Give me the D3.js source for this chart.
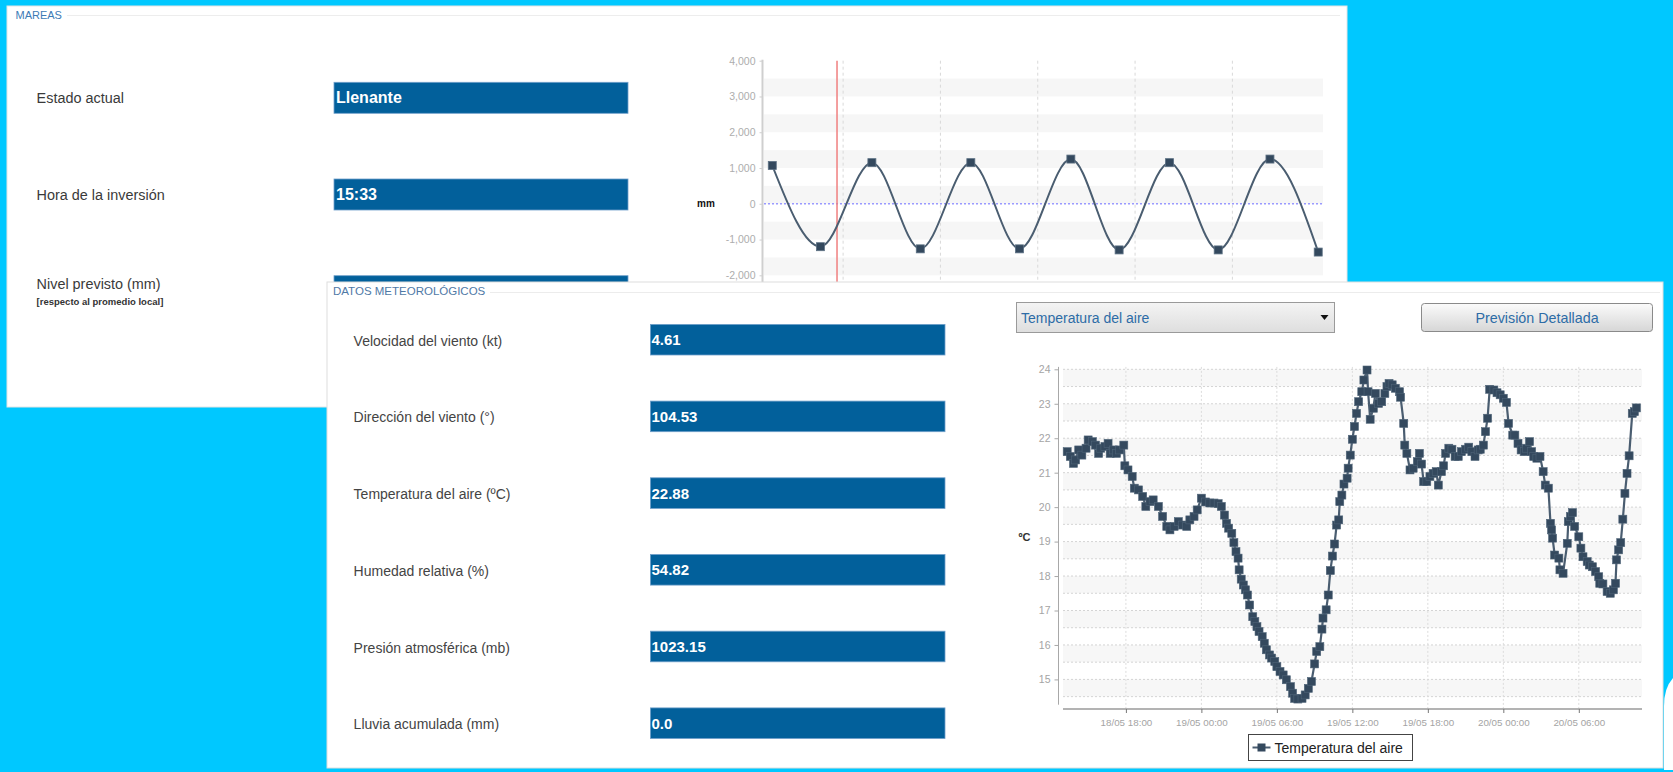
<!DOCTYPE html>
<html><head><meta charset="utf-8">
<script src="https://cdn.jsdelivr.net/npm/d3@7"></script>
<style>html,body{margin:0;padding:0;background:#00c8ff;overflow:hidden}
text{font-family:"Liberation Sans",Arial,sans-serif}</style>
</head><body>
<svg id="chart" width="1673" height="772"></svg>
<script>
// ---------------- DATA ----------------
const tideFieldLabels = ["Estado actual", "Hora de la inversión", "Nivel previsto (mm)"];
const tideFieldNotes  = ["", "", "[respecto al promedio local]"];
const tideFieldValues = ["Llenante", "15:33", ""];

const meteoLabels = ["Velocidad del viento (kt)", "Dirección del viento (°)", "Temperatura del aire (ºC)",
                     "Humedad relativa (%)", "Presión atmosférica (mb)", "Lluvia acumulada (mm)"];
const meteoValues = ["4.61", "104.53", "22.88", "54.82", "1023.15", "0.0"];

const tideTimes  = ["20/05 03:16","20/05 09:12","20/05 15:33","20/05 21:31","21/05 03:45","21/05 09:45",
                    "21/05 16:05","21/05 22:02","22/05 04:15","22/05 10:15","22/05 16:38","22/05 22:35"];
const tideLevels = [1070, -1200, 1150, -1260, 1150, -1260, 1250, -1290, 1150, -1290, 1250, -1350];
const tideYTicks = [-2000, -1000, 0, 1000, 2000, 3000, 4000];
const tideDomain = ["20/05 02:00", "22/05 23:00"];
const nowTime = "20/05 11:15";

const tempTimes = [
"18/05 13:20","18/05 13:35","18/05 13:50","18/05 14:00","18/05 14:15","18/05 14:30","18/05 14:50","18/05 15:00",
"18/05 15:20","18/05 15:35","18/05 15:50","18/05 16:00","18/05 16:20","18/05 16:35","18/05 16:45","18/05 17:00",
"18/05 17:15","18/05 17:30","18/05 17:50","18/05 17:55","18/05 18:10","18/05 18:30","18/05 18:40","18/05 19:00",
"18/05 19:20","18/05 19:35","18/05 19:55","18/05 20:10","18/05 20:35","18/05 20:55","18/05 21:15","18/05 21:30",
"18/05 21:50","18/05 22:10","18/05 22:30","18/05 22:50","18/05 23:05","18/05 23:25","18/05 23:40",
"19/05 00:00","19/05 00:20","19/05 00:40","19/05 01:00","19/05 01:20","19/05 01:35","19/05 01:50","19/05 02:00",
"19/05 02:10","19/05 02:25","19/05 02:35","19/05 02:45","19/05 02:55","19/05 03:00","19/05 03:10","19/05 03:20",
"19/05 03:30","19/05 03:40","19/05 03:50","19/05 04:05","19/05 04:15","19/05 04:25","19/05 04:35","19/05 04:50",
"19/05 05:00","19/05 05:10","19/05 05:25","19/05 05:35","19/05 05:50","19/05 06:00","19/05 06:15","19/05 06:30",
"19/05 06:45","19/05 07:05","19/05 07:15","19/05 07:25","19/05 07:40","19/05 08:00","19/05 08:15","19/05 08:30",
"19/05 08:45","19/05 09:00","19/05 09:10","19/05 09:25","19/05 09:35","19/05 09:40","19/05 09:55","19/05 10:05",
"19/05 10:15","19/05 10:25","19/05 10:35","19/05 10:45","19/05 10:55","19/05 11:00","19/05 11:10","19/05 11:20",
"19/05 11:35","19/05 11:40","19/05 11:50","19/05 12:00","19/05 12:10","19/05 12:20","19/05 12:30","19/05 12:45",
"19/05 12:55","19/05 13:10","19/05 13:15","19/05 13:25","19/05 13:40","19/05 13:50","19/05 14:05","19/05 14:20",
"19/05 14:35","19/05 14:45","19/05 14:55","19/05 15:10","19/05 15:25","19/05 15:45","19/05 15:50","19/05 16:05",
"19/05 16:10","19/05 16:20","19/05 16:35","19/05 16:50","19/05 17:10","19/05 17:20","19/05 17:30","19/05 17:40",
"19/05 17:55","19/05 18:10","19/05 18:25","19/05 18:40","19/05 18:50","19/05 19:05","19/05 19:15","19/05 19:25",
"19/05 19:40","19/05 19:55","19/05 20:10","19/05 20:25","19/05 20:40","19/05 21:00","19/05 21:15","19/05 21:30",
"19/05 21:45","19/05 22:00","19/05 22:10","19/05 22:25","19/05 22:35","19/05 22:45","19/05 22:55","19/05 23:15",
"19/05 23:30","19/05 23:45",
"20/05 00:00","20/05 00:15","20/05 00:25","20/05 00:45","20/05 00:55","20/05 01:10","20/05 01:25","20/05 01:40",
"20/05 01:50","20/05 02:05","20/05 02:15","20/05 02:25","20/05 02:40","20/05 02:55","20/05 03:10","20/05 03:20",
"20/05 03:35","20/05 03:45","20/05 03:50","20/05 03:55","20/05 04:05","20/05 04:25","20/05 04:30","20/05 04:45",
"20/05 05:05","20/05 05:10","20/05 05:20","20/05 05:30","20/05 05:40","20/05 06:00","20/05 06:10","20/05 06:20",
"20/05 06:40","20/05 06:50","20/05 07:05","20/05 07:20","20/05 07:35","20/05 07:40","20/05 07:55","20/05 08:15",
"20/05 08:30","20/05 08:45","20/05 08:55","20/05 09:00","20/05 09:10","20/05 09:20","20/05 09:30","20/05 09:40",
"20/05 09:50","20/05 10:00","20/05 10:15","20/05 10:25","20/05 10:35"];
const tempValues = [
21.61,21.47,21.27,21.37,21.66,21.51,21.71,21.95,
21.90,21.80,21.56,21.71,21.76,21.85,21.56,21.66,
21.56,21.66,21.80,21.20,21.08,20.89,20.55,20.50,
20.31,20.02,20.16,20.21,20.02,19.73,19.44,19.34,
19.44,19.58,19.48,19.44,19.63,19.73,19.92,
20.26,20.15,20.12,20.12,20.10,20.02,19.77,19.53,
19.39,19.24,18.97,18.71,18.52,18.18,17.91,17.74,
17.60,17.45,17.16,16.82,16.68,16.53,16.39,16.24,
16.05,15.86,15.71,15.62,15.52,15.37,15.23,15.13,
14.99,14.79,14.60,14.45,14.43,14.45,14.55,14.74,
14.94,15.45,15.81,15.95,16.46,16.78,17.02,17.45,
18.16,18.58,18.93,19.48,19.63,20.16,20.35,20.67,
20.84,21.13,21.51,21.97,22.34,22.72,23.06,23.35,
23.69,23.98,23.35,22.55,22.87,23.30,23.01,23.06,
23.30,23.50,23.59,23.55,23.45,23.35,23.19,22.43,
21.80,21.56,21.08,21.13,21.32,21.56,21.25,20.74,
20.74,20.89,20.98,21.03,20.64,21.03,21.20,21.56,
21.71,21.68,21.47,21.47,21.61,21.68,21.74,21.61,
21.47,21.66,21.68,21.80,22.19,22.58,23.42,23.40,
23.32,23.26,
23.16,23.04,22.43,22.09,22.09,21.85,21.66,21.61,
21.71,21.90,21.61,21.47,21.42,21.47,21.03,20.64,
20.55,19.53,19.34,19.10,18.61,18.52,18.18,18.08,
18.95,19.58,19.73,19.84,19.44,19.14,18.81,18.56,
18.42,18.32,18.27,18.13,17.98,17.79,17.77,17.55,
17.50,17.60,17.79,18.47,18.76,18.97,19.65,20.40,
20.98,21.49,22.72,22.77,22.88];
const tempYTicks = [15, 16, 17, 18, 19, 20, 21, 22, 23, 24];
const tempDomain = ["18/05 13:00", "20/05 11:00"];
const tempSeriesName = "Temperatura del aire";
const selectorText = "Temperatura del aire";
const buttonText = "Previsión Detallada";

// ---------------- DRAW ----------------
const parse = d3.timeParse("%d/%m %H:%M");
const fmt = d3.timeFormat("%d/%m %H:%M");
const svg = d3.select("#chart");
const W = 1673, H = 772;
const BAR = "#02609b", BARLINE = "#6f9fca", LINE = "#4a5d70", MARK = "#34495e";

const defs = svg.append("defs");
const g1 = defs.append("linearGradient").attr("id","btn").attr("x1",0).attr("x2",0).attr("y1",0).attr("y2",1);
g1.append("stop").attr("offset","0%").attr("stop-color","#fbfbfb");
g1.append("stop").attr("offset","100%").attr("stop-color","#d6d6d6");
const g2 = defs.append("linearGradient").attr("id","sel").attr("x1",0).attr("x2",0).attr("y1",0).attr("y2",1);
g2.append("stop").attr("offset","0%").attr("stop-color","#f4f4f4");
g2.append("stop").attr("offset","100%").attr("stop-color","#dedede");

svg.append("rect").attr("width",W).attr("height",H).attr("fill","#00c8ff");

// ===== Panel 1 : MAREAS =====
const p1 = svg.append("g");
p1.append("rect").attr("x",7).attr("y",6).attr("width",1340).attr("height",401)
  .attr("fill","#fff").attr("stroke","#e4e4e4");
p1.append("line").attr("x1",67).attr("x2",1340).attr("y1",15.5).attr("y2",15.5).attr("stroke","#ededed");
p1.append("text").attr("x",15.5).attr("y",14.5).attr("dominant-baseline","central")
  .attr("font-size",11).attr("fill","#3d7bb6").text("MAREAS");

const row1 = d3.scaleLinear().domain([0,1]).range([97.8, 194.5]);
tideFieldLabels.forEach((lab,i)=>{
  const cy = row1(i);
  const hasNote = tideFieldNotes[i] !== "";
  p1.append("text").attr("transform",`translate(36.6,${hasNote?cy-8:cy}) scale(0.93,1)`)
    .attr("dominant-baseline","central").attr("font-size",15.5).attr("fill","#3a3a3a").text(lab);
  if (hasNote) p1.append("text").attr("x",36.6).attr("y",cy+10).attr("dominant-baseline","central")
    .attr("font-size",9.5).attr("font-weight","bold").attr("fill","#333").text(tideFieldNotes[i]);
  p1.append("rect").attr("x",334).attr("y",cy-15.5).attr("width",294).attr("height",31)
    .attr("fill",BAR).attr("stroke",BARLINE).attr("stroke-width",0.8);
  p1.append("text").attr("x",336).attr("y",cy).attr("dominant-baseline","central")
    .attr("font-size",16).attr("font-weight","bold").attr("fill","#fff").text(tideFieldValues[i]);
});

// tide chart
const xT = d3.scaleTime().domain(tideDomain.map(parse)).range([762, 1321.6]);
const yT = d3.scaleLinear().domain([-2500, 4000]).range([293.2, 60.7]);
const tg = p1.append("g");
const tX0 = 764, tX1 = 1323;
for (let k=-2; k<=3; k++) {
  tg.append("rect").attr("x",tX0).attr("width",tX1-tX0)
    .attr("y",yT(k*1000+500)).attr("height",yT(k*1000)-yT(k*1000+500)).attr("fill","#f6f6f6");
}
tg.selectAll(".vg").data(xT.ticks(d3.timeHour.every(12))).join("line")
  .attr("x1",d=>xT(d)).attr("x2",d=>xT(d)).attr("y1",yT(4000)).attr("y2",yT(-2500))
  .attr("stroke","#d9d9d9").attr("stroke-dasharray","3,3");
tg.append("line").attr("x1",tX0).attr("x2",tX1).attr("y1",yT(0)).attr("y2",yT(0))
  .attr("stroke","#9a9aff").attr("stroke-width",1.5).attr("stroke-dasharray","2,2");
const commaFmt = d3.format(",");
const yAxT = tg.append("g").attr("transform","translate(762.5,0)")
  .call(d3.axisLeft(yT).tickValues(tideYTicks).tickSize(3).tickPadding(4)
        .tickFormat(d => commaFmt(d).replace("\u2212","-")));
yAxT.select(".domain").attr("stroke","#cfcfcf").attr("stroke-width",2).attr("d",`M0,${yT(4000)-1}V${yT(-2500)}`);
yAxT.selectAll(".tick line").attr("stroke","#cfcfcf");
yAxT.selectAll("text").attr("fill","#adadad").attr("font-size",10.5).attr("font-family","Liberation Sans, Arial");
tg.append("text").attr("x",706).attr("y",yT(0)).attr("text-anchor","middle").attr("dominant-baseline","central")
  .attr("font-size",10).attr("font-weight","bold").attr("fill","#111").text("mm");
tg.append("line").attr("x1",xT(parse(nowTime))).attr("x2",xT(parse(nowTime)))
  .attr("y1",yT(4000)).attr("y2",yT(-2500)).attr("stroke","#f07f7f").attr("stroke-width",1.5);
const tideData = tideTimes.map((t,i)=>({t:parse(t), v:tideLevels[i]}));
tg.append("path").datum(tideData).attr("fill","none").attr("stroke",LINE).attr("stroke-width",2)
  .attr("d", d3.line().x(d=>xT(d.t)).y(d=>yT(d.v)).curve(d3.curveMonotoneX));
tg.selectAll(".tm").data(tideData).join("rect")
  .attr("x",d=>xT(d.t)-4).attr("y",d=>yT(d.v)-4).attr("width",8).attr("height",8)
  .attr("fill",MARK).attr("stroke","#5d7184").attr("stroke-width",0.8);

// ===== Panel 2 : DATOS METEOROLÓGICOS =====
const p2 = svg.append("g");
p2.append("path").attr("d","M1673,678 Q1664,688 1664,706 L1664,770 L1673,770 Z").attr("fill","#fff");
p2.append("rect").attr("x",327).attr("y",282).attr("width",1336).attr("height",486)
  .attr("fill","#fff").attr("stroke","#dedede");
p2.append("line").attr("x1",490).attr("x2",1660).attr("y1",292.5).attr("y2",292.5).attr("stroke","#ececec");
p2.append("text").attr("x",333).attr("y",291).attr("dominant-baseline","central")
  .attr("font-size",11.5).attr("fill","#4f79a6").text("DATOS METEOROLÓGICOS");

const row2 = d3.scaleLinear().domain([0,1]).range([339.7, 416.4]);
meteoLabels.forEach((lab,i)=>{
  const cy = row2(i);
  p2.append("text").attr("x",353.6).attr("y",cy+1).attr("dominant-baseline","central")
    .attr("font-size",14).attr("fill","#444").text(lab);
  p2.append("rect").attr("x",650.4).attr("y",cy-15.3).attr("width",294.6).attr("height",30.6)
    .attr("fill",BAR).attr("stroke",BARLINE).attr("stroke-width",0.8);
  p2.append("text").attr("x",651.5).attr("y",cy).attr("dominant-baseline","central")
    .attr("font-size",15).attr("font-weight","bold").attr("fill","#fff").text(meteoValues[i]);
});

// selector + button
p2.append("rect").attr("x",1016.5).attr("y",302.5).attr("width",318).attr("height",30)
  .attr("fill","url(#sel)").attr("stroke","#9a9a9a");
p2.append("text").attr("x",1021).attr("y",317.5).attr("dominant-baseline","central")
  .attr("font-size",14).attr("fill","#2d6ca6").text(selectorText);
p2.append("path").attr("d","M1320.5,315 L1328.5,315 L1324.5,320 Z").attr("fill","#111");
p2.append("rect").attr("x",1421.5).attr("y",303.5).attr("width",231).attr("height",28).attr("rx",3)
  .attr("fill","url(#btn)").attr("stroke","#8a8a8a");
p2.append("text").attr("x",1537).attr("y",317.5).attr("text-anchor","middle").attr("dominant-baseline","central")
  .attr("font-size",14.3).attr("fill","#2d6ca6").text(buttonText);

// temperature chart
const xC = d3.scaleTime().domain(tempDomain.map(parse)).range([1063, 1641.7]);
const yC = d3.scaleLinear().domain([14.15, 24.07]).range([708.7, 366.9]);
const cg = p2.append("g");
const cX0 = 1063, cX1 = 1642;
for (let k=14; k<=23; k++) {
  cg.append("rect").attr("x",cX0).attr("width",cX1-cX0)
    .attr("y",yC(Math.min(k+1,24))).attr("height",yC(k+0.5)-yC(Math.min(k+1,24))).attr("fill","#f7f7f7");
}
const halfTicks = d3.range(14.5, 24.01, 0.5);
cg.selectAll(".hg").data(halfTicks).join("line")
  .attr("x1",cX0).attr("x2",cX1).attr("y1",d=>yC(d)).attr("y2",d=>yC(d))
  .attr("stroke","#d4d4d4").attr("stroke-dasharray","2,2");
const tTicks = xC.ticks(d3.timeHour.every(6));
cg.selectAll(".cvg").data(tTicks).join("line")
  .attr("x1",d=>xC(d)).attr("x2",d=>xC(d)).attr("y1",yC(24.07)).attr("y2",yC(14.15))
  .attr("stroke","#dcdcdc").attr("stroke-dasharray","2,2");
const yAxC = cg.append("g").attr("transform","translate(1058.5,0)")
  .call(d3.axisLeft(yC).tickValues(tempYTicks).tickSize(4).tickPadding(4));
yAxC.select(".domain").attr("stroke","#a8a8a8").attr("d",`M0,${yC(24.07)}V${yC(14.15)-4}`);
yAxC.selectAll(".tick line").attr("stroke","#a8a8a8");
yAxC.selectAll("text").attr("fill","#a4a4a4").attr("font-size",10.5).attr("font-family","DejaVu Sans Mono, monospace");
const xAxC = cg.append("g").attr("transform","translate(0,709)")
  .call(d3.axisBottom(xC).tickValues(tTicks).tickSize(4).tickPadding(6).tickFormat(fmt));
xAxC.select(".domain").attr("stroke","#9a9a9a").attr("stroke-width",1.5).attr("d",`M${cX0},0H${cX1}`);
xAxC.selectAll(".tick line").attr("stroke","#777");
xAxC.selectAll("text").attr("fill","#a4a4a4").attr("font-size",9.8).attr("font-family","DejaVu Sans Mono, monospace");
cg.append("text").attr("x",1024.5).attr("y",537).attr("text-anchor","middle").attr("dominant-baseline","central")
  .attr("font-size",11).attr("font-weight","bold").attr("fill","#333").text("ºC");

const tempData = tempTimes.map((t,i)=>({t:parse(t), v:tempValues[i]}));
cg.append("path").datum(tempData).attr("fill","none").attr("stroke",LINE).attr("stroke-width",2.2)
  .attr("d", d3.line().x(d=>xC(d.t)).y(d=>yC(d.v)));
cg.selectAll(".cm").data(tempData).join("rect")
  .attr("x",d=>xC(d.t)-4).attr("y",d=>yC(d.v)-4).attr("width",8).attr("height",8)
  .attr("fill",MARK).attr("stroke","#4f6478").attr("stroke-width",0.6);

// legend
const lg = cg.append("g").attr("transform","translate(1248.5,734.5)");
lg.append("rect").attr("width",164).attr("height",26).attr("fill","#fff").attr("stroke","#444");
lg.append("line").attr("x1",4).attr("x2",22).attr("y1",13).attr("y2",13).attr("stroke",LINE).attr("stroke-width",2);
lg.append("rect").attr("x",9).attr("y",9).attr("width",8).attr("height",8).attr("fill",MARK);
lg.append("text").attr("x",26).attr("y",13.5).attr("dominant-baseline","central")
  .attr("font-size",14).attr("fill","#222").text(tempSeriesName);
</script>
</body></html>
